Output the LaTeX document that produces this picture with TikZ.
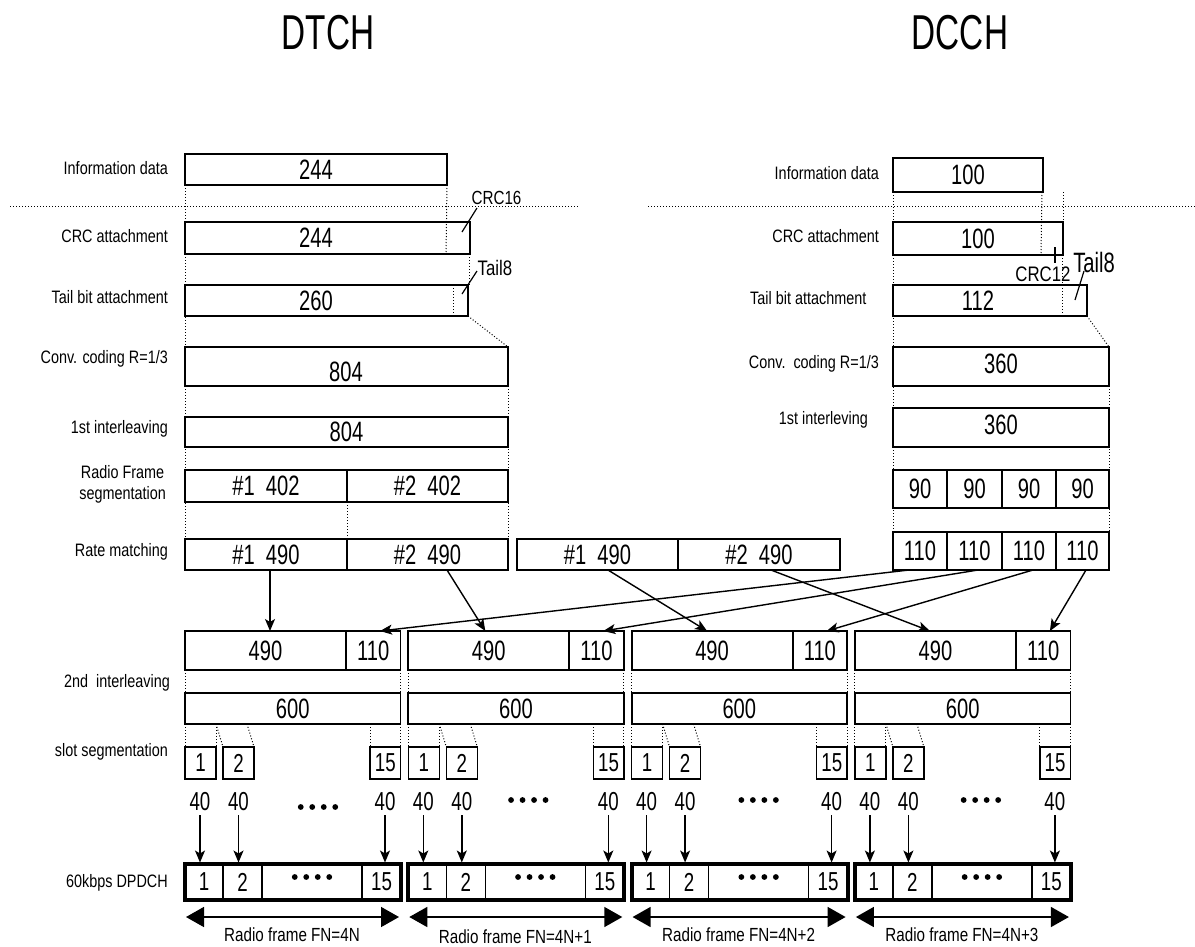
\documentclass[tikz,border=0pt]{standalone}
\usepackage{fontspec}
\setmainfont{Liberation Sans}[FakeStretch=0.8]
\newfontfamily\numfam{Liberation Sans}[FakeStretch=0.72]
\newfontfamily\titfam{Liberation Sans}[FakeStretch=0.68]
\usetikzlibrary{arrows.meta,calc}
\tikzset{
 bx/.style={draw, line width=1.8pt, rectangle, inner sep=0pt, outer sep=0pt, anchor=north west},
 thinbx/.style={draw, line width=1.4pt, rectangle, inner sep=0pt, outer sep=0pt, anchor=north west},
 thickfr/.style={draw, line width=3.8pt, rectangle, inner sep=0pt, outer sep=0pt, anchor=north west},
 dl/.style={line width=1pt, dash pattern=on 1pt off 2pt},
 lab/.style={font=\fontsize{18}{21}\selectfont, anchor=east, inner sep=0pt},
 num/.style={font=\numfam\fontsize{28}{30}\selectfont, inner sep=0pt},
 snum/.style={font=\numfam\fontsize{26}{28}\selectfont, inner sep=0pt},
 ttl/.style={font=\titfam\fontsize{49}{52}\selectfont, inner sep=0pt},
 small/.style={font=\fontsize{19}{21}\selectfont, inner sep=0pt},
 arr/.style={-{Stealth[length=12pt,width=10pt,inset=3pt]}, line width=1.4pt},
 darr/.style={{Triangle[length=18pt,width=20pt]}-{Triangle[length=18pt,width=20pt]}, line width=1.5pt},
}
\newcommand\rbox[7][]{\node[bx,num,minimum width=#5-#3,minimum height=#6-#4,#1] (#2) at (#3,#4) {#7};}
\newcommand\fourdots[2]{\fill (#1-17.25,#2) circle (2.9pt); \fill (#1-5.75,#2) circle (2.9pt); \fill (#1+5.75,#2) circle (2.9pt); \fill (#1+17.25,#2) circle (2.9pt);}
\begin{document}
\begin{tikzpicture}[x=1pt,y=-1pt]
\useasboundingbox (0,0) rectangle (1195,946);
% titles
\node[ttl] (tDT) at (328,32.5) {DTCH};
\node[ttl] (tDC) at (960,32.5) {DCCH};
% horizontal dotted separators
\coordinate (hl1) at (10,206); \coordinate (hl2) at (578,206);
\coordinate (hr1) at (648,206); \coordinate (hr2) at (1195,206);
\draw[dl] (hl1) -- (hl2);
\draw[dl] (hr1) -- (hr2);
% ---------------- left column (DTCH) ----------------
\rbox{iL}{185}{154}{447}{185}{244}
\rbox{cL}{185}{222}{470}{254}{}
\node[num] (cLt) at (316,238) {244};
\rbox{tL}{185}{285}{468}{316}{}
\node[num] (tLt) at (316,300.5) {260};
\rbox{vL}{185}{347}{508}{386}{}
\node[num] (vLt) at (346,371.5) {804};
\rbox{lL}{185}{417}{508}{447}{804}
\rbox{sL1}{185}{470}{347}{502}{\#1\hspace{11pt}402}
\rbox{sL2}{347}{470}{508}{502}{\#2\hspace{11pt}402}
\rbox{rL1}{185}{539}{347}{570}{\#1\hspace{11pt}490}
\rbox{rL2}{347}{539}{508}{570}{\#2\hspace{11pt}490}
\rbox{rM1}{517}{539}{678}{570}{\#1\hspace{11pt}490}
\rbox{rM2}{678}{539}{840}{570}{\#2\hspace{11pt}490}
% left dotted guides
\draw[dl] (iL.south west) -- (rL1.north west);
\draw[dl] (iL.south east) -- ($(cL.south west)+(261,0)$);
\draw[dl] ($(cL.south east)+(-1,0)$) -- ($(tL.north east)+(1,0)$);
\draw[dl] ($(tL.north west)+(268,0)$) -- ($(tL.south west)+(268,0)$);
\draw[dl] (tL.south east) -- (vL.north east);
\draw[dl] (vL.south east) -- (rL2.north east);
\draw[dl] (sL1.south east) -- (rL1.north east);
% CRC16 / Tail8 (left)
\node[small] (crc16) at (496.5,198) {CRC16};
\coordinate (c16a) at (477,208); \coordinate (c16b) at (462,232);
\draw[line width=1.2pt] (c16a) -- (c16b);
\node[font=\fontsize{21}{23}\selectfont, inner sep=0pt] (tail8L) at (495,268) {Tail8};
\coordinate (t8a) at (477,271); \coordinate (t8b) at (462,294);
\draw[line width=1.2pt] (t8a) -- (t8b);
% left labels
\node[lab] (l1) at (168,168) {Information data};
\node[lab] (l2) at (168,236) {CRC attachment};
\node[lab] (l3) at (168,297) {Tail bit attachment};
\node[lab] (l4) at (168,359) {Conv. coding R=1/3};
\node[lab] (l5) at (168,429) {1st interleaving};
\node[lab, align=center] (l6) at (166,484) {Radio Frame\\segmentation};
\node[lab] (l7) at (168,552) {Rate matching};
\node[lab] (l8) at (170,683) {2nd\ \ interleaving};
\node[lab] (l9) at (168,752) {slot segmentation};
\node[lab] (l10) at (168,883) {60kbps DPDCH};
% ---------------- right column (DCCH) ----------------
\rbox{iR}{893}{158}{1043}{192}{100}
\rbox{cR}{893}{222}{1063}{255}{}
\node[num] (cRt) at (978,238.5) {100};
\rbox{tR}{893}{285}{1087}{316}{}
\node[num] (tRt) at (978,300.5) {112};
\rbox{vR}{893}{347}{1109}{386}{}
\node[num] (vRt) at (1001,364) {360};
\rbox{lR}{893}{408}{1109}{447}{}
\node[num] (lRt) at (1001,425) {360};
\rbox{p1}{893}{470}{947}{508}{90}
\rbox{p2}{947}{470}{1002}{508}{90}
\rbox{p3}{1002}{470}{1056}{508}{90}
\rbox{p4}{1056}{470}{1109}{508}{90}
\rbox{q1}{893}{532}{947}{570}{110}
\rbox{q2}{947}{532}{1002}{570}{110}
\rbox{q3}{1002}{532}{1056}{570}{110}
\rbox{q4}{1056}{532}{1109}{570}{110}
% right dotted guides
\draw[dl] (iR.south west) -- (q1.north west);
\draw[dl] ($(iR.south east)+(-1,0)$) -- ($(cR.south west)+(148,0)$);
\draw[dl] ($(iR.south east)+(20,0)$) -- (cR.north east);
\draw[dl] ($(cR.south east)+(-0.5,0)$) -- ($(tR.south west)+(169.5,0)$);
\draw[dl] (tR.south east) -- (vR.north east);
\draw[dl] (vR.south east) -- (q4.north east);
% CRC12 / Tail8 (right)
\coordinate (c12a) at (1055,247); \coordinate (c12b) at (1055,263);
\draw[line width=1.2pt] (c12a) -- (c12b);
\node[font=\fontsize{21}{23}\selectfont, inner sep=0pt] (crc12) at (1043,274) {CRC12};
\node[font=\numfam\fontsize{28}{30}\selectfont, inner sep=0pt] (tail8R) at (1094,262) {Tail8};
\coordinate (t8Ra) at (1084,271); \coordinate (t8Rb) at (1075,300);
\draw[line width=1.2pt] (t8Ra) -- (t8Rb);
% right labels
\node[lab] (r1) at (879,173) {Information data};
\node[lab] (r2) at (879,236) {CRC attachment};
\node[lab] (r3) at (866.5,298) {Tail bit attachment};
\node[lab] (r4) at (879,364) {Conv.\ \ coding R=1/3};
\node[lab] (r5) at (868,420) {1st interleving};
% ---------------- radio frames ----------------
\foreach \i/\L/\dx/\dy in {0/185/133/807,1/408.3/120/800,2/631.6/127/800,3/854.9/126/800} {
  \node[bx,num,minimum width=161,minimum height=39] (f\i) at (\L,631) {490};
  \node[bx,num,minimum width=54.5,minimum height=39] (g\i) at (\L+161,631) {110};
  \node[bx,num,minimum width=215.5,minimum height=31] (h\i) at (\L,693) {600};
  \draw[dl] (f\i.south west) -- (h\i.north west);
  \draw[dl] (g\i.south east) -- (h\i.north east);
  \node[thinbx,snum,minimum width=31,minimum height=32] (sa\i) at (\L,747) {1};
  \node[thinbx,snum,minimum width=31,minimum height=32] (sb\i) at (\L+38,747) {2};
  \node[thinbx,snum,minimum width=30.5,minimum height=32] (sc\i) at (\L+185,747) {15};
  \draw[dl] (h\i.south west) -- (sa\i.north west);
  \draw[dl] ($(h\i.south west)+(31,0)$) -- (sa\i.north east);
  \draw[dl] ($(h\i.south west)+(31,0)$) -- (sb\i.north west);
  \draw[dl] ($(h\i.south west)+(62,0)$) -- (sb\i.north east);
  \draw[dl] ($(h\i.south west)+(185,0)$) -- (sc\i.north west);
  \draw[dl] (h\i.south east) -- (sc\i.north east);
  \node[snum] (na\i) at (\L+15,802) {40};
  \node[snum] (nb\i) at (\L+53.5,802) {40};
  \node[snum] (nc\i) at (\L+200,802) {40};
  \fourdots{\L+\dx}{\dy}
  \node[thinbx,snum,minimum width=38,minimum height=36] (da\i) at (\L,864) {1};
  \node[thinbx,snum,minimum width=39,minimum height=36] (db\i) at (\L+38,864) {2};
  \node[thinbx,minimum width=100,minimum height=36] (dc\i) at (\L+77,864) {};
  \node[thinbx,snum,minimum width=39,minimum height=36] (dd\i) at (\L+177,864) {15};
  \node[thickfr,minimum width=216,minimum height=36] (dF\i) at (\L,864) {};
  \fourdots{\L+127}{877}
  \draw[arr] ($(na\i.south)+(0,4)$) -- ($(na\i.south |- dF\i.north)+(0,-1.5)$);
  \draw[arr] ($(nb\i.south)+(0,4)$) -- ($(nb\i.south |- dF\i.north)+(0,-1.5)$);
  \draw[arr] ($(nc\i.south)+(0,4)$) -- ($(nc\i.south |- dF\i.north)+(0,-1.5)$);
  \coordinate (ra\i) at ($(dF\i.south west)+(1,17)$);
  \coordinate (rb\i) at ($(dF\i.south east)+(-2,17)$);
  \draw[darr] (ra\i) -- (rb\i);
}
\node[small] (fn0) at (292,935) {Radio frame FN=4N};
\node[small] (fn1) at (515.3,937) {Radio frame FN=4N+1};
\node[small] (fn2) at (738.6,935) {Radio frame FN=4N+2};
\node[small] (fn3) at (961.9,935) {Radio frame FN=4N+3};
% ---------------- mapping arrows ----------------
\draw[arr] ($(rL1.south west)+(85,0)$) -- ($(f0.north west)+(85,0)$);
\draw[arr] ($(rL2.south west)+(100,0)$) -- ($(f1.north west)+(77,0)$);
\draw[arr] ($(rM1.south west)+(91,0)$) -- ($(f2.north west)+(75.5,0)$);
\draw[arr] ($(rM2.south west)+(93,0)$) -- ($(f3.north west)+(75,0)$);
\draw[arr] ($(q1.south west)+(16,0)$) -- ($(g0.north west)+(34,0)$);
\draw[arr] ($(q2.south west)+(31,0)$) -- ($(g1.north west)+(34,0)$);
\draw[arr] ($(q3.south west)+(31,0)$) -- ($(g2.north west)+(34,0)$);
\draw[arr] ($(q4.south west)+(30,0)$) -- ($(g3.north west)+(34,0)$);
\end{tikzpicture}
\end{document}
